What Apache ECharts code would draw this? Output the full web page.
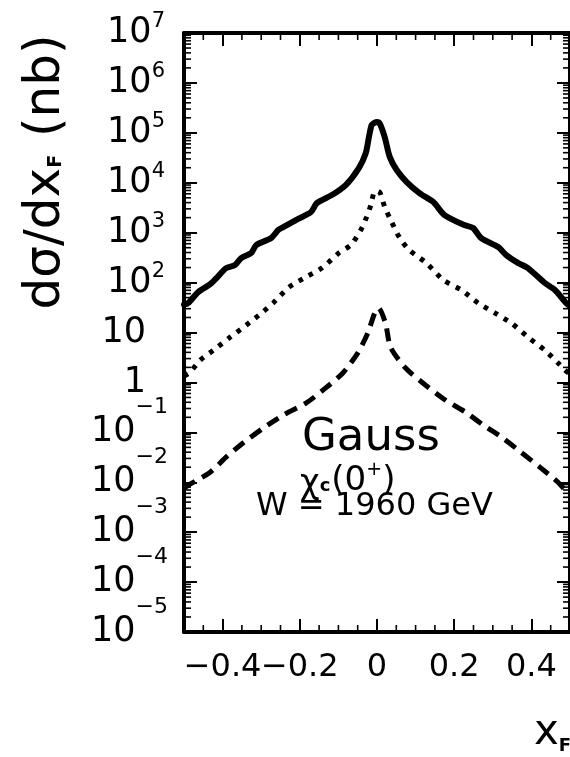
<!DOCTYPE html>
<html>
<head>
<meta charset="utf-8">
<script src="https://cdn.jsdelivr.net/npm/echarts@6/dist/echarts.min.js"></script>
<style>
  html, body { margin: 0; padding: 0; background: #fff; }
  #chart { width: 570px; height: 757px; }
</style>
</head>
<body>
<div id="chart"></div>
<script>
// d(sigma)/dx_F for chi_c(0+) production, W = 1960 GeV (three curves)
const xSolid = [-0.5, -0.489, -0.463, -0.432, -0.416, -0.391, -0.368, -0.352, -0.326, -0.313, -0.274, -0.256, -0.243, -0.21, -0.171, -0.156, -0.117, -0.081, -0.047, -0.029, -0.021, -0.014, -0.007, 0.0, 0.007, 0.02, 0.033, 0.051, 0.077, 0.11, 0.146, 0.175, 0.226, 0.249, 0.27, 0.314, 0.335, 0.366, 0.391, 0.435, 0.461, 0.49, 0.5];
const ySolid = [36, 39, 65, 93, 123, 195, 224, 310, 390, 565, 780, 1130, 1290, 1790, 2590, 3920, 5670, 9000, 19700, 39400, 82000, 143000, 158000, 165000, 155000, 82000, 33000, 18000, 10300, 6200, 4100, 2250, 1420, 1240, 780, 515, 355, 246, 195, 98, 71, 39, 34];

const xDotted = [-0.5, -0.484, -0.458, -0.424, -0.38, -0.339, -0.295, -0.269, -0.228, -0.184, -0.143, -0.099, -0.068, -0.042, -0.027, -0.016, -0.008, 0.0, 0.008, 0.02, 0.033, 0.059, 0.084, 0.128, 0.172, 0.219, 0.262, 0.306, 0.348, 0.391, 0.435, 0.469, 0.487, 0.5];
const yDotted = [1.35, 1.6, 2.8, 4.4, 8.1, 14, 26, 39, 81, 129, 195, 390, 565, 1130, 2050, 3570, 6300, 6800, 6300, 3260, 1960, 780, 447, 246, 112, 71, 39, 24.5, 15.4, 8.1, 4.4, 2.45, 1.76, 1.47];

const xDashed = [-0.5, -0.489, -0.432, -0.391, -0.347, -0.295, -0.243, -0.184, -0.14, -0.089, -0.05, -0.024, -0.006, 0.004, 0.022, 0.035, 0.074, 0.126, 0.178, 0.229, 0.276, 0.327, 0.373, 0.425, 0.469, 0.487, 0.5];
const yDashed = [0.0076, 0.0087, 0.0159, 0.0318, 0.061, 0.121, 0.221, 0.385, 0.70, 1.53, 3.86, 9.7, 24.5, 30.8, 15.4, 5.1, 1.94, 0.88, 0.44, 0.254, 0.139, 0.076, 0.040, 0.0192, 0.0100, 0.0070, 0.0058];

// axis ticks and tick labels
const xMajorTicks = [-0.4, -0.2, 0, 0.2, 0.4];
const xTickLabels = ['\u22120.4', '\u22120.2', '0', '0.2', '0.4'];
const xMinorTicks = [-0.45, -0.35, -0.3, -0.25, -0.15, -0.1, -0.05, 0.05, 0.1, 0.15, 0.25, 0.3, 0.35, 0.45];
const yDecadeExponents = [-5, -4, -3, -2, -1, 0, 1, 2, 3, 4, 5, 6, 7];

const FONT = 'DejaVu Sans';
const X_MIN = -0.5, X_MAX = 0.5, Y_MIN = 1e-5, Y_MAX = 1e7;

const yDecades = yDecadeExponents.map(e => Math.pow(10, e));
const yMinorTicks = [];
yDecadeExponents.slice(0, -1).forEach(e => {
  for (let k = 2; k <= 9; k++) yMinorTicks.push(k * Math.pow(10, e));
});

const zip = (xs, ys) => xs.map((x, i) => [x, ys[i]]);

// decade label as rich text: 10 with a raised exponent
function yLabel(v) {
  const e = Math.round(Math.log10(v));
  if (e === 0) return '{b|1}{pad|}';
  if (e === 1) return '{b|10}{pad|}';
  if (e > 0) return '{b|10}{ep|' + e + '}';
  return '{b|10}{en|\u2212' + (-e) + '}';
}
const yLabelRich = {
  b: { fontFamily: FONT, fontSize: 35, lineHeight: 36, fill: '#000', verticalAlign: 'middle' },
  ep: { fontFamily: FONT, fontSize: 21, lineHeight: 20, fill: '#000', verticalAlign: 'middle', padding: [0, 3, 22, 0] },
  en: { fontFamily: FONT, fontSize: 22, lineHeight: 20, fill: '#000', verticalAlign: 'middle', padding: [0, 0, 50, 0] },
  pad: { width: 22, lineHeight: 20 }
};

// x labels: the two frame ends carry empty labels
const xLabelValues = [X_MIN].concat(xMajorTicks, [X_MAX]);
function xLabel(v) {
  const i = xMajorTicks.findIndex(t => Math.abs(t - v) < 1e-9);
  return i >= 0 ? xTickLabels[i] : '';
}

const axisLineStyle = { color: '#000', width: 4 };

// short tick marks drawn inside the frame
function minorTickRenderer(which) {
  return function (params, api) {
    const cs = params.coordSys;
    const p = api.coord([api.value(0), api.value(1)]);
    const style = { stroke: '#000', lineWidth: 1.6 };
    const L = 7;
    let lines;
    if (which === 'y') {
      lines = [
        [cs.x, p[1], cs.x + L, p[1]],
        [cs.x + cs.width - L, p[1], cs.x + cs.width, p[1]]
      ];
    } else {
      lines = [
        [p[0], cs.y + cs.height, p[0], cs.y + cs.height - L],
        [p[0], cs.y, p[0], cs.y + L]
      ];
    }
    return {
      type: 'group',
      children: lines.map(l => ({
        type: 'line',
        shape: { x1: l[0], y1: l[1], x2: l[2], y2: l[3] },
        style: style
      }))
    };
  };
}

// decade labels left of the frame
function yLabelRenderer(params, api) {
  const cs = params.coordSys;
  const v = api.value(1);
  const p = api.coord([api.value(0), v]);
  return {
    type: 'text',
    style: {
      x: cs.x - 16, y: p[1], text: yLabel(v),
      align: 'right', verticalAlign: 'middle', rich: yLabelRich
    }
  };
}

const chart = echarts.init(document.getElementById('chart'), null, { renderer: 'canvas' });

chart.setOption({
  animation: false,
  backgroundColor: '#fff',
  grid: { left: 184, top: 33, width: 387, height: 599, containLabel: false },
  xAxis: [
    {
      type: 'value', position: 'bottom', min: X_MIN, max: X_MAX,
      axisLine: { show: true, onZero: false, lineStyle: axisLineStyle },
      axisTick: { show: true, inside: true, length: 13, customValues: xMajorTicks, lineStyle: { color: '#000', width: 2 } },
      axisLabel: {
        show: true, customValues: xLabelValues, formatter: xLabel, margin: 20,
        showMinLabel: false, showMaxLabel: false,
        color: '#000', fontFamily: FONT, fontSize: 32, lineHeight: 32
      },
      splitLine: { show: false }
    },
    {
      type: 'value', position: 'top', min: X_MIN, max: X_MAX,
      axisLine: { show: true, onZero: false, lineStyle: axisLineStyle },
      axisTick: { show: true, inside: true, length: 13, customValues: xMajorTicks, lineStyle: { color: '#000', width: 2 } },
      axisLabel: { show: false },
      splitLine: { show: false }
    }
  ],
  yAxis: [
    {
      type: 'log', logBase: 10, position: 'left', min: Y_MIN, max: Y_MAX,
      axisLine: { show: true, onZero: false, lineStyle: axisLineStyle },
      axisTick: { show: true, inside: true, length: 13, customValues: yDecades, lineStyle: { color: '#000', width: 2 } },
      axisLabel: { show: false },
      splitLine: { show: false }
    },
    {
      type: 'log', logBase: 10, position: 'right', min: Y_MIN, max: Y_MAX,
      axisLine: { show: true, onZero: false, lineStyle: axisLineStyle },
      axisTick: { show: true, inside: true, length: 13, customValues: yDecades, lineStyle: { color: '#000', width: 2 } },
      axisLabel: { show: false },
      splitLine: { show: false }
    }
  ],
  series: [
    {
      name: 'solid', type: 'line', xAxisIndex: 0, yAxisIndex: 0,
      data: zip(xSolid, ySolid), showSymbol: false, smooth: 0.25,
      lineStyle: { color: '#000', width: 6, cap: 'round', join: 'round' }
    },
    {
      name: 'dotted', type: 'line', xAxisIndex: 0, yAxisIndex: 0,
      data: zip(xDotted, yDotted), showSymbol: false, smooth: 0.25,
      lineStyle: { color: '#000', width: 5, type: [4.5, 7], cap: 'butt' }
    },
    {
      name: 'dashed', type: 'line', xAxisIndex: 0, yAxisIndex: 0,
      data: zip(xDashed, yDashed), showSymbol: false, smooth: 0.25,
      lineStyle: { color: '#000', width: 5, type: [13, 8], cap: 'butt' }
    },
    {
      name: 'yMinorTicks', type: 'custom', xAxisIndex: 0, yAxisIndex: 0, silent: true, clip: false,
      data: yMinorTicks.map(v => [X_MIN, v]), renderItem: minorTickRenderer('y')
    },
    {
      name: 'xMinorTicks', type: 'custom', xAxisIndex: 0, yAxisIndex: 0, silent: true, clip: false,
      data: xMinorTicks.map(v => [v, 1]), renderItem: minorTickRenderer('x')
    },
    {
      name: 'yLabels', type: 'custom', xAxisIndex: 0, yAxisIndex: 0, silent: true, clip: false,
      data: yDecades.map(v => [X_MIN, v]), renderItem: yLabelRenderer
    }
  ],
  graphic: [
    {
      type: 'text', x: 46, y: 172, rotation: Math.PI / 2,
      style: {
        text: 'd\u03c3/dx{s|F} (nb)', fontFamily: FONT, fontSize: 50, fill: '#000',
        align: 'center', verticalAlign: 'middle',
        rich: { s: { fontFamily: FONT, fontSize: 19, fontWeight: 'bold', fill: '#000', padding: [20, 2, 0, 0] } }
      }
    },
    {
      type: 'text', x: 302, y: 438,
      style: { text: 'Gauss', fontFamily: FONT, fontSize: 45, fill: '#000', align: 'left', verticalAlign: 'middle' }
    },
    {
      type: 'text', x: 300, y: 481,
      style: {
        text: '{c|\u03c7}{s|c}{t|(0}{u|+}{t|)}', align: 'left', verticalAlign: 'middle',
        rich: {
          c: { fontFamily: FONT, fontSize: 34, fill: '#000', verticalAlign: 'middle', padding: [6, 0, 0, 0] },
          s: { fontFamily: FONT, fontSize: 18, fontWeight: 'bold', fill: '#000', verticalAlign: 'middle', padding: [10, 1, 0, 0] },
          t: { fontFamily: FONT, fontSize: 34, fill: '#000', verticalAlign: 'middle' },
          u: { fontFamily: FONT, fontSize: 19, fill: '#000', verticalAlign: 'middle', padding: [0, 0, 22, 0] }
        }
      }
    },
    {
      type: 'text', x: 256, y: 507,
      style: { text: 'W = 1960 GeV', fontFamily: FONT, fontSize: 32, fill: '#000', align: 'left', verticalAlign: 'middle' }
    },
    {
      type: 'text', x: 534, y: 733,
      style: {
        text: '{x|x}{s|F}', align: 'left', verticalAlign: 'middle',
        rich: {
          x: { fontFamily: FONT, fontSize: 42, fill: '#000', verticalAlign: 'middle' },
          s: { fontFamily: FONT, fontSize: 18, fontWeight: 'bold', fill: '#000', verticalAlign: 'middle', padding: [27, 0, 0, 0] }
        }
      }
    }
  ]
});
</script>
</body>
</html>
